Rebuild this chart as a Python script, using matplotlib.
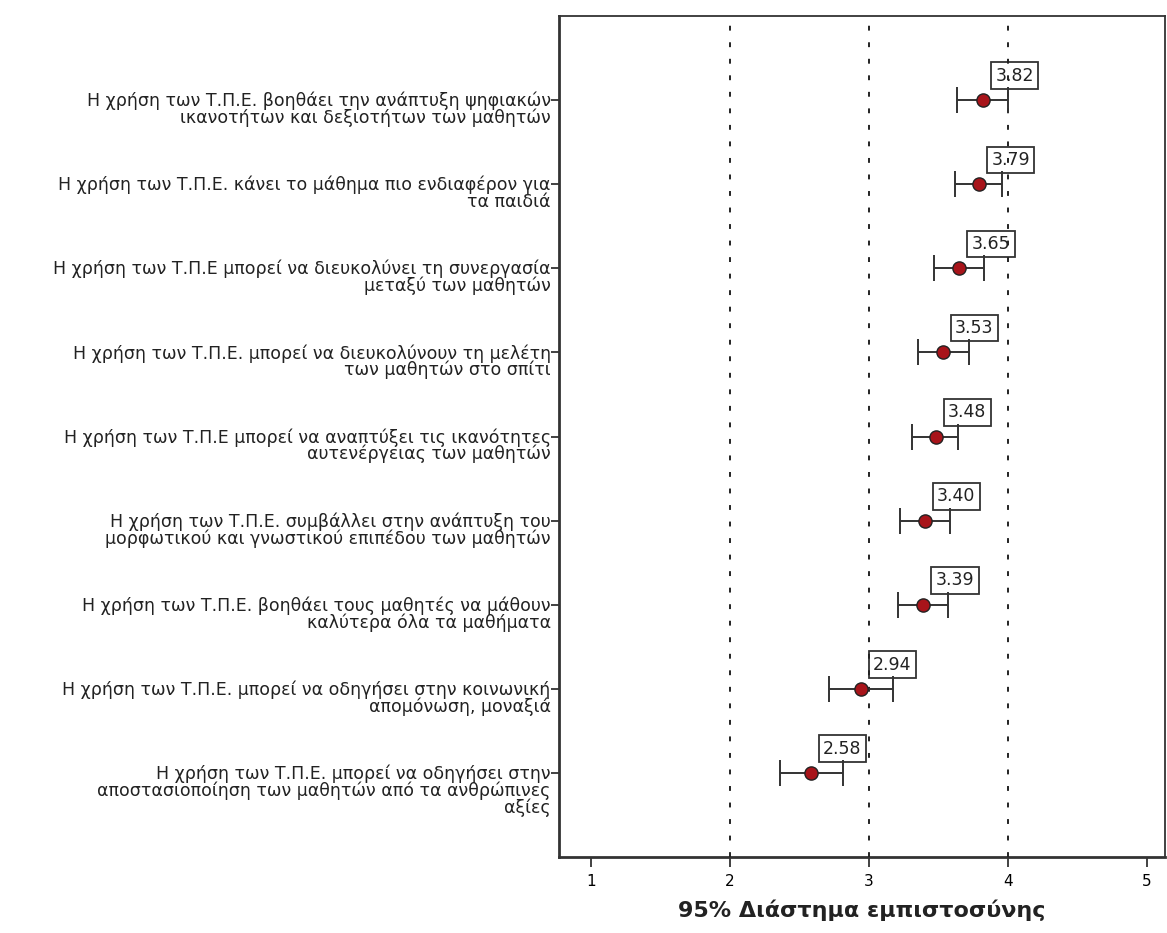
import matplotlib
matplotlib.use("Agg")
import matplotlib.pyplot as plt
import matplotlib.transforms as mtransforms
import numpy as np

plt.rcParams['font.family'] = ['DejaVu Sans']

labels = [
    "Η χρήση των Τ.Π.Ε. βοηθάει την ανάπτυξη ψηφιακών\nικανοτήτων και δεξιοτήτων των μαθητών",
    "Η χρήση των Τ.Π.Ε. κάνει το μάθημα πιο ενδιαφέρον για\nτα παιδιά",
    "Η χρήση των Τ.Π.Ε μπορεί να διευκολύνει τη συνεργασία\nμεταξύ των μαθητών",
    "Η χρήση των Τ.Π.Ε. μπορεί να διευκολύνουν τη μελέτη\nτων μαθητών στο σπίτι",
    "Η χρήση των Τ.Π.Ε μπορεί να αναπτύξει τις ικανότητες\nαυτενέργειας των μαθητών",
    "Η χρήση των Τ.Π.Ε. συμβάλλει στην ανάπτυξη του\nμορφωτικού και γνωστικού επιπέδου των μαθητών",
    "Η χρήση των Τ.Π.Ε. βοηθάει τους μαθητές να μάθουν\nκαλύτερα όλα τα μαθήματα",
    "Η χρήση των Τ.Π.Ε. μπορεί να οδηγήσει στην κοινωνική\nαπομόνωση, μοναξιά",
    "Η χρήση των Τ.Π.Ε. μπορεί να οδηγήσει στην\nαποστασιοποίηση των μαθητών από τα ανθρώπινες\nαξίες",
]
means = [3.82, 3.79, 3.65, 3.53, 3.48, 3.40, 3.39, 2.94, 2.58]
ci_low = [3.63, 3.62, 3.47, 3.35, 3.31, 3.22, 3.21, 2.71, 2.36]
ci_high = [4.00, 3.96, 3.83, 3.72, 3.64, 3.58, 3.57, 3.17, 2.81]
xticks = [1, 2, 3, 4, 5]
xlabel = "95% Διάστημα εμπιστοσύνης"

fig = plt.figure(figsize=(11.67, 9.33), dpi=100)
ax = fig.add_axes([559/1167, 1-857/933, 606/1167, 841/933])

y = np.arange(1, len(labels)+1)
means_a = np.array(means)
err = np.vstack([means_a - np.array(ci_low), np.array(ci_high) - means_a])

for xv in [2, 3, 4]:
    ax.axvline(xv, color='#222222', lw=1.4, linestyle=(0, (2.5, 6)), zorder=3)

ax.errorbar(means_a, y, xerr=err, fmt='none', ecolor='#333333', elinewidth=1.4,
            capsize=9.5, capthick=1.4, zorder=4)
ax.plot(means_a, y, 'o', ms=9.5, mfc='#A8141A', mec='#222222', mew=1.0, zorder=5)

for m, yy in zip(means, y):
    ax.annotate(f"{m:.2f}", xy=(m, yy), xytext=(9, 11), textcoords='offset points',
                ha='left', va='bottom', fontsize=12.5, color='#222222',
                bbox=dict(boxstyle='square,pad=0.25', fc='none', ec='#333333', lw=1.3),
                zorder=2)

ax.set_xlim(0.77, 5.13)
ax.set_ylim(10, 0)
ax.set_xticks(xticks)
ax.set_xticklabels([str(t) for t in xticks], fontsize=11)
ax.tick_params(axis='x', direction='out', length=7, width=1.3, color='#333333', pad=5)
ax.set_yticks(y)
ax.set_yticklabels([])
ax.tick_params(axis='y', direction='out', length=6, width=1.3, color='#333333')

offs = mtransforms.ScaledTranslation(-6/72, 6/72, fig.dpi_scale_trans)
tr = mtransforms.blended_transform_factory(ax.transAxes, ax.transData) + offs
for lab, yy in zip(labels, y):
    ax.text(0, yy, lab, transform=tr, ha='right', va='top', fontsize=12.5,
            linespacing=0.88, color='#222222', multialignment='right')

for s in ax.spines.values():
    s.set_color('#333333')
    s.set_linewidth(1.3)
ax.spines['left'].set_linewidth(2)
ax.spines['bottom'].set_linewidth(2)

ax.set_xlabel(xlabel, fontsize=16, fontweight='bold', color='#222222', labelpad=8)

fig.savefig("out.png", dpi=100)
